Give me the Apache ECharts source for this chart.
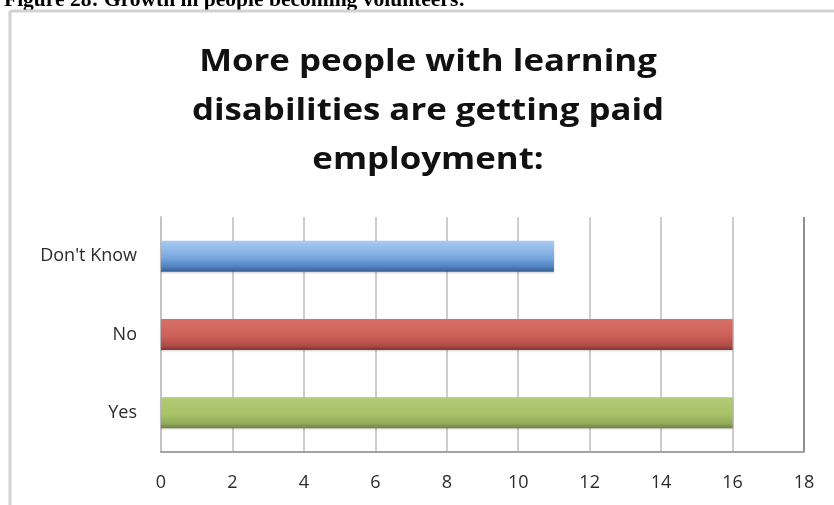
<!DOCTYPE html>
<html>
<head>
<meta charset="utf-8">
<title>More people with learning disabilities are getting paid employment</title>
<script src="https://cdn.jsdelivr.net/npm/echarts@6/dist/echarts.min.js"></script>
<style>
  html, body { margin: 0; padding: 0; background: #fff; }
  #chart { width: 834px; height: 505px; }
</style>
</head>
<body>
<div id="chart"></div>
<script>
// data
var categories = ['Yes', 'No', "Don't Know"];
var values = [16, 16, 11];
var axisMin = 0;
var axisMax = 18;
var axisStep = 2;

var captionText = 'Figure 28: Growth in people becoming volunteers:';
var titleText = 'More people with learning\ndisabilities are getting paid\nemployment:';

// office style bars: light top, darker bottom edge
function barGradient(c) {
    return new echarts.graphic.LinearGradient(0, 0, 0, 1, [
        {offset: 0, color: c[0]},
        {offset: 0.55, color: c[1]},
        {offset: 0.85, color: c[2]},
        {offset: 1, color: c[3]}
    ]);
}
var barColors = [
    ['#b2cb78', '#a8c267', '#91a95a', '#6b803f'],  // Yes
    ['#d76f68', '#cc6058', '#b14d47', '#7f3532'],  // No
    ['#a8cbf4', '#79a7de', '#4f80bf', '#36618f']   // Don't Know
];

var gridColors = [];
for (var i = axisMin; i <= axisMax; i += axisStep) {
    gridColors.push(i === axisMax ? '#8f8f8f' : '#cdcdcd');
}

var dom = document.getElementById('chart');
var myChart = echarts.init(dom, null, {renderer: 'canvas'});

var labelFont = {
    color: '#2b2b2b',
    fontSize: 18,
    fontFamily: 'Open Sans'
};

var option = {
    animation: false,
    backgroundColor: '#ffffff',
    grid: {
        left: 161,
        right: 30,
        top: 217,
        bottom: 53
    },
    xAxis: {
        type: 'value',
        min: axisMin,
        max: axisMax,
        interval: axisStep,
        axisLine: {show: true, onZero: false, lineStyle: {color: '#a3a3a3', width: 2}},
        axisTick: {show: false},
        splitLine: {show: true, lineStyle: {color: gridColors, width: 2}},
        axisLabel: Object.assign({margin: 22}, labelFont)
    },
    yAxis: {
        type: 'category',
        data: categories,
        axisLine: {show: true, lineStyle: {color: '#c4c4c4', width: 2}},
        axisTick: {show: false},
        axisLabel: Object.assign({margin: 24}, labelFont)
    },
    series: [{
        type: 'bar',
        barWidth: 31,
        data: values.map(function (v, i) {
            return {
                value: v,
                itemStyle: {
                    color: barGradient(barColors[i]),
                    shadowColor: 'rgba(0,0,0,0.18)',
                    shadowBlur: 2,
                    shadowOffsetY: 1
                }
            };
        })
    }],
    graphic: [
        // figure caption, cut off by the top of the page
        {
            type: 'text',
            left: 4,
            top: -11,
            style: {
                text: captionText,
                fill: '#000',
                font: 'bold 21.5px "Liberation Serif"'
            }
        },
        // outer chart frame (top and left edges)
        {
            type: 'line',
            shape: {x1: 10, y1: 11, x2: 834, y2: 11},
            style: {stroke: '#d2d2d2', lineWidth: 3}
        },
        {
            type: 'line',
            shape: {x1: 10, y1: 11, x2: 10, y2: 505},
            style: {stroke: '#d2d2d2', lineWidth: 3}
        },
        // chart title (the source text is drawn a little wide)
        {
            type: 'text',
            x: 428,
            y: 38,
            scaleX: 1.16,
            originX: 0,
            style: {
                text: titleText,
                fill: '#111',
                font: 'bold 30px "Open Sans"',
                lineHeight: 49,
                align: 'center',
                verticalAlign: 'top'
            }
        }
    ]
};

myChart.setOption(option, true);
</script>
</body>
</html>
